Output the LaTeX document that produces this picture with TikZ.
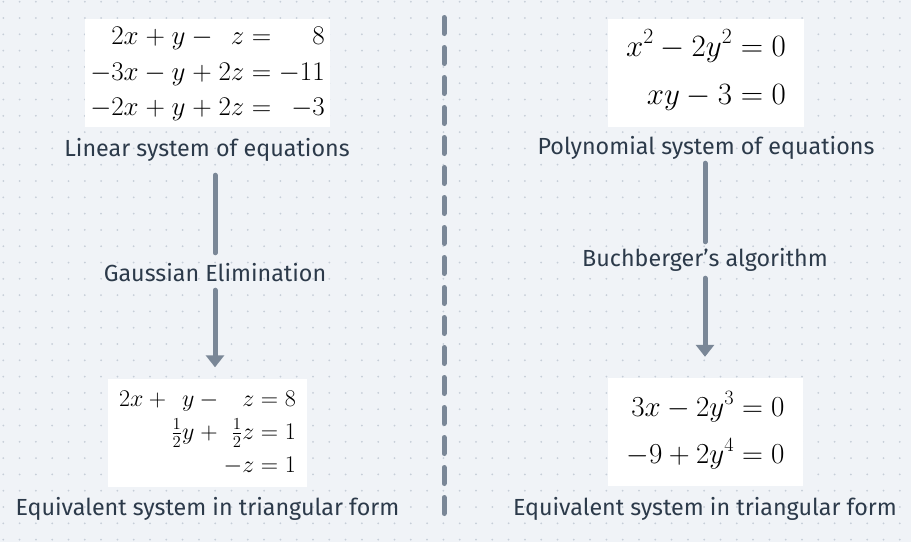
\RequirePackage{fix-cm}
\documentclass[tikz,border=0pt]{standalone}
\usepackage{amsmath}
\usepackage{fontspec}
\setsansfont{Fira Sans}
\usetikzlibrary{arrows.meta}
\definecolor{bgcol}{HTML}{F0F3F7}
\definecolor{dotcol}{HTML}{C6CED8}
\definecolor{linecol}{HTML}{7A8797}
\definecolor{txtcol}{HTML}{2C3A4A}
\begin{document}
\begin{tikzpicture}[x=1pt,y=-1pt,
  eqbox/.style={fill=white,inner sep=0pt,minimum height=108pt},
  caption/.style={font=\sffamily\fontsize{23.3}{26}\selectfont,text=txtcol,inner sep=0pt,minimum height=24pt},
  flow/.style={draw=linecol,line width=5pt,line cap=round},
  tip/.style={-{Triangle[width=18pt,length=12pt]}}]
\fill[bgcol] (0,0) rectangle (911,542);
\useasboundingbox (0,0) rectangle (911,542);
\foreach \i in {0,...,55}
  \foreach \j in {0,...,33}
    \fill[dotcol] (3.3+16.3*\i,1.7+16.3*\j) circle (1pt);
\draw[linecol,line width=5pt,line cap=round,dash pattern=on 16pt off 14pt] (444,17.5) -- (444,513.5);

\node (A) at (207.5,73) [eqbox,minimum width=245pt,font=\fontsize{27}{35.5}\selectfont] {$\begin{array}{r@{}c@{}r@{}c@{}r@{}c@{}r}
 2x &{}+{}& y &{}-{}& z &{}={}& 8\\
-3x &{}-{}& y &{}+{}& 2z &{}={}& -11\\
-2x &{}+{}& y &{}+{}& 2z &{}={}& -3
\end{array}$};
\node (B) at (207,150) [caption] {Linear system of equations};
\node (C) at (215,273) [caption] {Gaussian Elimination};
\draw[flow,shorten <=13pt,shorten >=8pt] (B.south -| C) -- (C.north);

\node (D) at (207.5,432.5) [eqbox,minimum width=199pt,font=\fontsize{24}{33}\selectfont] {$\begin{array}{r@{}c@{}r@{}c@{}r@{}c@{}r}
2x &{}+{}& y &{}-{}& z &{}={}& 8\\
 && \tfrac12 y &{}+{}& \tfrac12 z &{}={}& 1\\
 &&&& -z &{}={}& 1
\end{array}$};
\node (E) at (207.5,509) [caption] {Equivalent system in triangular form};
\draw[flow,tip,shorten <=5pt,shorten >=11pt] (C.south) -- (D.north -| C);

\node (F) at (706,72.5) [eqbox,minimum width=196pt,font=\fontsize{31}{40}\selectfont\setlength{\jot}{8pt}] {$\begin{aligned}
x^2-2y^2 &= 0\\
xy-3 &= 0
\end{aligned}$};
\node (G) at (706,148) [caption] {Polynomial system of equations};
\node (H) at (705,260) [caption] {Buchberger’s algorithm};
\draw[flow,shorten <=3pt,shorten >=6pt] (G.south -| H) -- (H.north);

\node (I) at (705.5,432) [eqbox,minimum width=195pt,font=\fontsize{29}{40}\selectfont\setlength{\jot}{7pt}] {$\begin{aligned}
3x-2y^3 &= 0\\
-9+2y^4 &= 0
\end{aligned}$};
\node (J) at (705,509) [caption] {Equivalent system in triangular form};
\draw[flow,tip,shorten <=6pt,shorten >=21pt] (H.south) -- (I.north -| H);
\end{tikzpicture}
\end{document}
